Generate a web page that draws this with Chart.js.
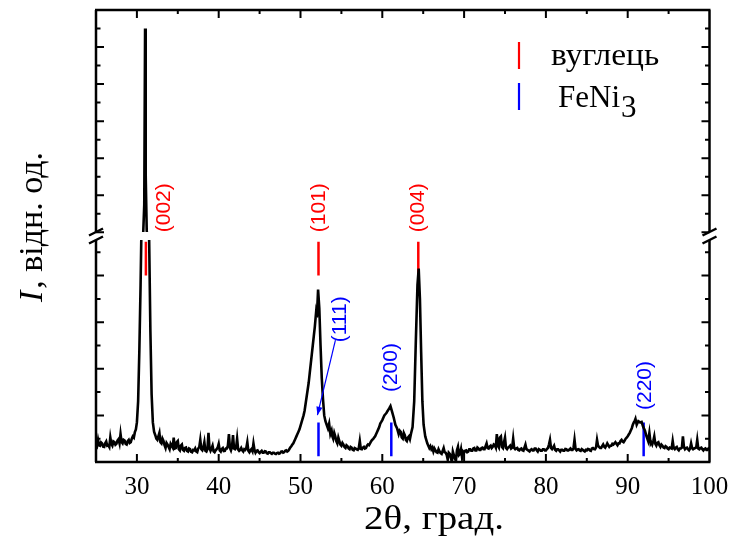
<!DOCTYPE html>
<html>
<head>
<meta charset="utf-8">
<script src="https://cdn.jsdelivr.net/npm/chart.js@4/dist/chart.umd.min.js"></script>
<style>
  html, body { margin: 0; background: #fff; }
  #wrap { width: 732px; height: 545px; }
</style>
</head>
<body>
<div id="wrap"><canvas id="xrd"></canvas></div>
<script>
/* Дифрактограма: кут 2θ (град.) та інтенсивність (відн. од.) */
const twoTheta = [
  25,25.125,25.25,25.375,25.5,25.625,25.75,25.875,
  26,26.125,26.25,26.375,26.5,26.625,26.75,26.875,
  27,27.125,27.25,27.375,27.5,27.625,27.75,27.875,
  28,28.125,28.25,28.375,28.5,28.625,28.75,28.875,
  29,29.125,29.25,29.375,29.5,29.625,29.75,29.875,
  30,30.15,30.3,30.45,30.6,30.75,30.9,31,31.08,31.2,
  31.35,31.5,31.65,31.8,31.95,32.1,32.25,32.375,
  32.5,32.625,32.75,32.875,
  33,33.125,33.25,33.375,33.5,33.625,33.75,33.875,
  34,34.125,34.25,34.375,34.5,34.625,34.75,34.875,
  35,35.125,35.25,35.375,35.5,35.625,35.75,35.875,
  36,36.125,36.25,36.375,36.5,36.625,36.75,36.875,
  37,37.125,37.25,37.375,37.5,37.625,37.75,37.875,
  38,38.125,38.25,38.375,38.5,38.625,38.75,38.875,
  39,39.125,39.25,39.375,39.5,39.625,39.75,39.875,
  40,40.125,40.25,40.375,40.5,40.625,40.75,40.875,
  41,41.125,41.25,41.375,41.5,41.625,41.75,41.875,
  42,42.125,42.25,42.375,42.5,42.625,42.75,42.875,
  43,43.125,43.25,43.375,43.5,43.625,43.75,43.875,
  44,44.125,44.25,44.375,44.5,44.625,44.75,44.875,
  45,45.125,45.25,45.375,45.5,45.625,45.75,45.875,
  46,46.125,46.25,46.375,46.5,46.625,46.75,46.875,
  47,47.125,47.25,47.375,47.5,47.625,47.75,47.875,
  48,48.125,48.25,48.375,48.5,48.625,48.75,48.875,
  49,49.125,49.25,49.375,49.5,49.625,49.75,49.875,
  50,50.125,50.25,50.375,50.5,50.625,50.75,50.875,
  51,51.125,51.25,51.375,51.5,51.625,51.75,51.9,
  52,52.15,52.3,52.45,52.6,52.75,52.9,53.05,53.2,53.35,
  53.5,53.65,53.8,53.9,
  54,54.125,54.25,54.375,54.5,54.625,54.75,54.875,
  55,55.125,55.25,55.375,55.5,55.625,55.75,55.875,
  56,56.125,56.25,56.375,56.5,56.625,56.75,56.875,
  57,57.125,57.25,57.375,57.5,57.625,57.75,57.875,
  58,58.125,58.25,58.375,58.5,58.625,58.75,58.875,
  59,59.125,59.25,59.375,59.5,59.625,59.75,59.875,
  60,60.125,60.25,60.375,60.5,60.625,60.75,60.875,
  61,61.2,61.4,61.6,61.8,62,62.125,62.25,62.375,62.5,
  62.625,62.75,62.875,63,63.125,63.25,63.375,63.5,63.7,
  63.9,64.1,64.3,64.45,64.6,64.75,64.9,65.05,65.25,
  65.375,65.5,65.625,65.75,65.875,
  66,66.125,66.25,66.375,66.5,66.625,66.75,66.875,
  67,67.125,67.25,67.375,67.5,67.625,67.75,67.875,
  68,68.125,68.25,68.375,68.5,68.625,68.75,68.875,
  69,69.125,69.25,69.375,69.5,69.625,69.75,69.875,
  70,70.125,70.25,70.375,70.5,70.625,70.75,70.875,
  71,71.125,71.25,71.375,71.5,71.625,71.75,71.875,
  72,72.125,72.25,72.375,72.5,72.625,72.75,72.875,
  73,73.125,73.25,73.375,73.5,73.625,73.75,73.875,
  74,74.125,74.25,74.375,74.5,74.625,74.75,74.875,
  75,75.125,75.25,75.375,75.5,75.625,75.75,75.875,
  76,76.125,76.25,76.375,76.5,76.625,76.75,76.875,
  77,77.125,77.25,77.375,77.5,77.625,77.75,77.875,
  78,78.125,78.25,78.375,78.5,78.625,78.75,78.875,
  79,79.125,79.25,79.375,79.5,79.625,79.75,79.875,
  80,80.125,80.25,80.375,80.5,80.625,80.75,80.875,
  81,81.125,81.25,81.375,81.5,81.625,81.75,81.875,
  82,82.125,82.25,82.375,82.5,82.625,82.75,82.875,
  83,83.125,83.25,83.375,83.5,83.625,83.75,83.875,
  84,84.125,84.25,84.375,84.5,84.625,84.75,84.875,
  85,85.125,85.25,85.375,85.5,85.625,85.75,85.875,
  86,86.125,86.25,86.375,86.5,86.625,86.75,86.875,
  87,87.125,87.25,87.375,87.5,87.625,87.75,87.875,
  88,88.125,88.25,88.375,88.5,88.625,88.75,88.875,
  89,89.125,89.25,89.375,89.5,89.625,89.75,89.875,
  90,90.125,90.25,90.375,90.5,90.625,90.75,90.875,
  90.95,91.1,91.3,91.5,91.7,91.9,92.1,92.3,92.5,92.65,
  92.8,92.875,
  93,93.125,93.25,93.375,93.5,93.625,93.75,93.875,
  94,94.125,94.25,94.375,94.5,94.625,94.75,94.875,
  95,95.125,95.25,95.375,95.5,95.625,95.75,95.875,
  96,96.125,96.25,96.375,96.5,96.625,96.75,96.875,
  97,97.125,97.25,97.375,97.5,97.625,97.75,97.875,
  98,98.125,98.25,98.375,98.5,98.625,98.75,98.875,
  99,99.125,99.25,99.375,99.5,99.625,99.75,99.875,
  100
];
const intensity = [
  75,68,95,72,70,84,80,66,
  65,80,88,70,72,64,105,78,
  70,88,85,74,78,92,98,80,
  120,86,80,95,92,78,75,90,
  95,82,85,100,110,105,128,140,
  170,260,480,760,1100,1700,3500,13000,5000,2100,
  1300,950,560,290,170,130,115,100,
  95,110,125,85,
  80,100,90,72,60,82,75,65,
  55,78,70,62,105,58,60,85,
  90,55,50,70,75,52,48,60,
  62,48,45,58,55,44,42,52,
  50,58,45,42,58,64,95,55,
  50,62,85,48,45,55,125,60,
  48,58,70,46,42,50,55,62,
  78,50,45,56,60,47,48,58,
  58,70,120,60,50,65,115,58,
  55,62,100,54,48,52,60,50,
  45,55,52,60,85,48,42,50,
  55,46,80,52,40,48,50,42,
  38,44,48,40,40,46,45,38,
  36,42,42,38,35,40,40,36,
  34,38,40,36,38,44,45,40,
  42,48,50,45,48,55,62,68,
  75,80,90,100,110,120,130,140,
  155,170,185,200,220,250,280,310,
  340,380,420,460,500,540,580,640,
  620,740,660,500,360,270,200,175,160,145,
  165,120,135,110,
  100,125,110,90,80,105,90,75,
  70,82,75,64,60,72,68,58,
  55,65,62,52,50,60,58,54,
  52,60,90,56,55,62,65,58,
  60,70,75,72,80,88,95,98,
  105,110,120,130,140,150,165,172,
  180,190,200,205,210,218,225,232,
  240,215,190,160,145,120,135,130,105,100,
  125,115,95,90,105,110,98,120,150,
  260,520,760,830,700,470,260,160,110,
  95,80,70,60,68,
  55,62,45,58,50,42,40,55,
  45,38,35,48,60,42,40,30,
  10,40,35,20,0,45,30,15,
  5,50,65,30,35,55,20,45,
  40,48,50,42,45,55,55,48,
  48,58,60,50,50,62,58,52,
  52,60,62,55,55,68,80,60,
  58,66,70,60,65,75,72,62,
  120,70,62,105,110,65,60,85,
  105,60,55,62,65,70,58,62,
  100,60,55,58,60,52,50,56,
  58,50,48,62,75,55,52,48,
  45,52,55,50,50,58,58,50,
  45,55,52,48,48,55,55,50,
  50,56,60,75,95,60,55,62,
  70,52,48,55,55,50,45,52,
  52,48,48,56,55,50,50,54,
  58,52,52,60,95,56,50,54,
  55,50,48,55,52,48,45,52,
  50,56,55,50,48,58,60,56,
  55,62,95,70,65,60,60,68,
  75,66,62,70,80,72,65,70,
  70,78,75,80,85,78,72,80,
  80,90,95,88,85,92,100,105,
  110,118,125,135,145,160,170,178,
  185,160,175,170,172,150,135,110,90,125,
  80,85,
  75,90,110,78,70,82,85,72,
  65,75,70,62,60,68,65,58,
  55,62,60,58,90,60,55,62,
  65,55,50,58,58,62,110,65,
  55,60,62,55,50,58,80,60,
  55,58,60,62,95,58,55,60,
  62,55,50,56,58,52,52,58,
  55
];

/* Штрих-діаграми фаз */
const carbonPos = [31.1, 52.2, 64.4];
const carbonHkl = ['(002)', '(101)', '(004)'];
const carbonStick = [800, 945];
const carbonLabelPos = [33.35, 52.25, 64.45];
const carbonLabelI = [2000, 2000, 2000];

const feniPos = [52.2, 61.1, 91.95];
const feniHkl = ['(111)', '(200)', '(220)'];
const feniStick = [25, 170];
const feniLabelPos = [54.9, 61.1, 92.2];
const feniLabelI = [514, 300, 223];
const arrow111 = [[54.27, 523], [52.07, 201]];

/* Осі */
const xLabelTicks = [30, 40, 50, 60, 70, 80, 90, 100];
const xMinorTicks = [35, 45, 55, 65, 75, 85, 95];
const yLowRange = [0, 970];
const yLowMajor = [200, 400, 600, 800];
const yLowMinor = [100, 300, 500, 700, 900];
const yHighRange = [1800, 14000];
const yHighMajor = [2000, 4000, 6000, 8000, 10000, 12000];
const yHighMinor = [3000, 5000, 7000, 9000, 11000, 13000];

const legendNames = ['вуглець', 'FeNi'];
const RED = '#ff0000', BLUE = '#0000ff';
const SERIF = '"Liberation Serif", "Times New Roman", serif';

const spectrum = twoTheta.map((t, i) => ({ x: t, y: intensity[i] }));

function sticks(pos, range) {
    const pts = [];
    pos.forEach(p => {
        pts.push({ x: p, y: range[0] }, { x: p, y: range[1] }, { x: p, y: null });
    });
    return pts;
}

/* Розрив осі, рамка з внутрішніми поділками, підписи */
const decor = {
    id: 'decor',
    afterDatasetsDraw(chart) {
        const ctx = chart.ctx, a = chart.chartArea;
        const brk = chart.scales.yHigh.bottom;
        ctx.save();
        ctx.fillStyle = '#fff';
        ctx.fillRect(a.left + 2, brk - 4, a.right - a.left - 4, 8);
        ctx.restore();
    },
    afterDraw(chart) {
        const ctx = chart.ctx, a = chart.chartArea;
        const xs = chart.scales.x, yl = chart.scales.yLow, yh = chart.scales.yHigh;
        const brk = yh.bottom;
        ctx.save();
        ctx.strokeStyle = '#000';
        ctx.lineWidth = 2.5;
        ctx.beginPath();
        // рамка
        ctx.moveTo(a.left - 1, a.bottom); ctx.lineTo(a.right + 1, a.bottom);
        ctx.moveTo(a.left - 1, a.top); ctx.lineTo(a.right + 1, a.top);
        ctx.moveTo(a.left, a.bottom); ctx.lineTo(a.left, brk + 4);
        ctx.moveTo(a.left, brk - 4); ctx.lineTo(a.left, a.top);
        ctx.moveTo(a.right, a.bottom); ctx.lineTo(a.right, brk + 4);
        ctx.moveTo(a.right, brk - 4); ctx.lineTo(a.right, a.top);
        ctx.stroke();

        // знаки розриву
        ctx.beginPath();
        [a.left, a.right].forEach(x => {
            [brk - 4, brk + 4].forEach(y => {
                ctx.moveTo(x - 7, y + 3.5); ctx.lineTo(x + 7, y - 3.5);
            });
        });
        ctx.stroke();

        // поділки
        ctx.lineWidth = 2;
        ctx.beginPath();
        const xt = (vals, len) => vals.forEach(v => {
            const px = xs.getPixelForValue(v);
            ctx.moveTo(px, a.bottom); ctx.lineTo(px, a.bottom - len);
            ctx.moveTo(px, a.top); ctx.lineTo(px, a.top + len);
        });
        const yt = (sc, vals, len) => vals.forEach(v => {
            const py = sc.getPixelForValue(v);
            ctx.moveTo(a.left, py); ctx.lineTo(a.left + len, py);
            ctx.moveTo(a.right, py); ctx.lineTo(a.right - len, py);
        });
        xt(xLabelTicks.filter(v => v < 100), 8);
        xt(xMinorTicks, 4);
        yt(yl, yLowMajor, 8); yt(yl, yLowMinor, 4.5);
        yt(yh, yHighMajor, 8); yt(yh, yHighMinor, 4.5);
        ctx.stroke();

        // індекси рефлексів
        ctx.font = '21px "Liberation Sans", Arial, sans-serif';
        ctx.textAlign = 'left';
        ctx.textBaseline = 'middle';
        const vlabel = (txt, px, py, col) => {
            ctx.save();
            ctx.fillStyle = col;
            ctx.translate(px, py);
            ctx.rotate(-Math.PI / 2);
            ctx.fillText(txt, 0, 0);
            ctx.restore();
        };
        carbonHkl.forEach((t, i) => vlabel(t, xs.getPixelForValue(carbonLabelPos[i]), yh.getPixelForValue(carbonLabelI[i]), RED));
        feniHkl.forEach((t, i) => vlabel(t, xs.getPixelForValue(feniLabelPos[i]), yl.getPixelForValue(feniLabelI[i]), BLUE));

        // стрілка до (111)
        const x0 = xs.getPixelForValue(arrow111[0][0]), y0 = yl.getPixelForValue(arrow111[0][1]);
        const x1 = xs.getPixelForValue(arrow111[1][0]), y1 = yl.getPixelForValue(arrow111[1][1]);
        const ang = Math.atan2(y1 - y0, x1 - x0);
        ctx.strokeStyle = BLUE; ctx.fillStyle = BLUE; ctx.lineWidth = 1.2;
        ctx.beginPath(); ctx.moveTo(x0, y0); ctx.lineTo(x1, y1); ctx.stroke();
        ctx.beginPath();
        ctx.moveTo(x1, y1);
        ctx.lineTo(x1 - 9 * Math.cos(ang - 0.35), y1 - 9 * Math.sin(ang - 0.35));
        ctx.lineTo(x1 - 9 * Math.cos(ang + 0.35), y1 - 9 * Math.sin(ang + 0.35));
        ctx.closePath(); ctx.fill();

        // легенда
        const lx = a.left + 423, ly = a.top + 32;
        ctx.lineWidth = 2.2;
        ctx.strokeStyle = RED;
        ctx.beginPath(); ctx.moveTo(lx, ly); ctx.lineTo(lx, ly + 27); ctx.stroke();
        ctx.strokeStyle = BLUE;
        ctx.beginPath(); ctx.moveTo(lx, ly + 41); ctx.lineTo(lx, ly + 68); ctx.stroke();
        ctx.fillStyle = '#000';
        ctx.textBaseline = 'alphabetic';
        ctx.font = '31px ' + SERIF;
        ctx.save();
        ctx.translate(lx + 32, ly + 23);
        ctx.scale(1.08, 1);
        ctx.fillText(legendNames[0], 0, 0);
        ctx.restore();
        ctx.fillText(legendNames[1], lx + 39, ly + 65);
        const wFe = ctx.measureText(legendNames[1]).width;
        ctx.fillText('3', lx + 39 + wFe + 1, ly + 75);

        // підписи осей
        ctx.save();
        ctx.font = '33px ' + SERIF;
        ctx.textAlign = 'center';
        ctx.translate(434, 529);
        ctx.scale(1.18, 1);
        ctx.fillText('2θ, град.', 0, 0);
        ctx.restore();

        ctx.translate(42, 228);
        ctx.rotate(-Math.PI / 2);
        ctx.textAlign = 'left';
        ctx.font = 'italic 34px ' + SERIF;
        const wI = ctx.measureText('I').width;
        ctx.font = '34px ' + SERIF;
        const rest = ', відн. од.';
        const wR = ctx.measureText(rest).width;
        const s = -(wI + wR) / 2;
        ctx.font = 'italic 34px ' + SERIF;
        ctx.fillText('I', s, 0);
        ctx.font = '34px ' + SERIF;
        ctx.fillText(rest, s + wI + 2, 0);
        ctx.restore();
    }
};

const hiddenY = (range, weight) => ({
    type: 'linear',
    position: 'left',
    stack: 'intensity',
    stackWeight: weight,
    min: range[0],
    max: range[1],
    grid: { display: false, drawTicks: false },
    border: { display: false },
    ticks: { display: false },
    afterFit: s => { s.width = 0; }
});

new Chart(document.getElementById('xrd'), {
    type: 'line',
    data: {
        datasets: [
            { data: spectrum, yAxisID: 'yLow', borderColor: '#000', borderWidth: 2.6, pointRadius: 0, tension: 0 },
            { data: spectrum, yAxisID: 'yHigh', borderColor: '#000', borderWidth: 2.6, pointRadius: 0, tension: 0 },
            { data: sticks(carbonPos, carbonStick), yAxisID: 'yLow', borderColor: RED, borderWidth: 2.5, pointRadius: 0, spanGaps: false },
            { data: sticks(feniPos, feniStick), yAxisID: 'yLow', borderColor: BLUE, borderWidth: 2.5, pointRadius: 0, spanGaps: false }
        ]
    },
    options: {
        responsive: true,
        maintainAspectRatio: false,
        animation: false,
        devicePixelRatio: 1,
        layout: { padding: { left: 96, right: 22.5, top: 10, bottom: 0 } },
        plugins: { legend: { display: false }, tooltip: { enabled: false } },
        scales: {
            x: {
                type: 'linear',
                min: 25,
                max: 100,
                afterBuildTicks: s => { s.ticks = xLabelTicks.map(v => ({ value: v })); },
                afterFit: s => { s.height = 83; s.paddingLeft = 0; s.paddingRight = 0; },
                grid: { display: false, drawTicks: false },
                border: { display: false },
                ticks: {
                    color: '#000',
                    autoSkip: false,
                    maxRotation: 0,
                    padding: 10,
                    font: { family: SERIF, size: 25 }
                }
            },
            yLow: hiddenY(yLowRange, 1),
            yHigh: hiddenY(yHighRange, 1)
        }
    },
    plugins: [decor]
});
</script>
</body>
</html>
